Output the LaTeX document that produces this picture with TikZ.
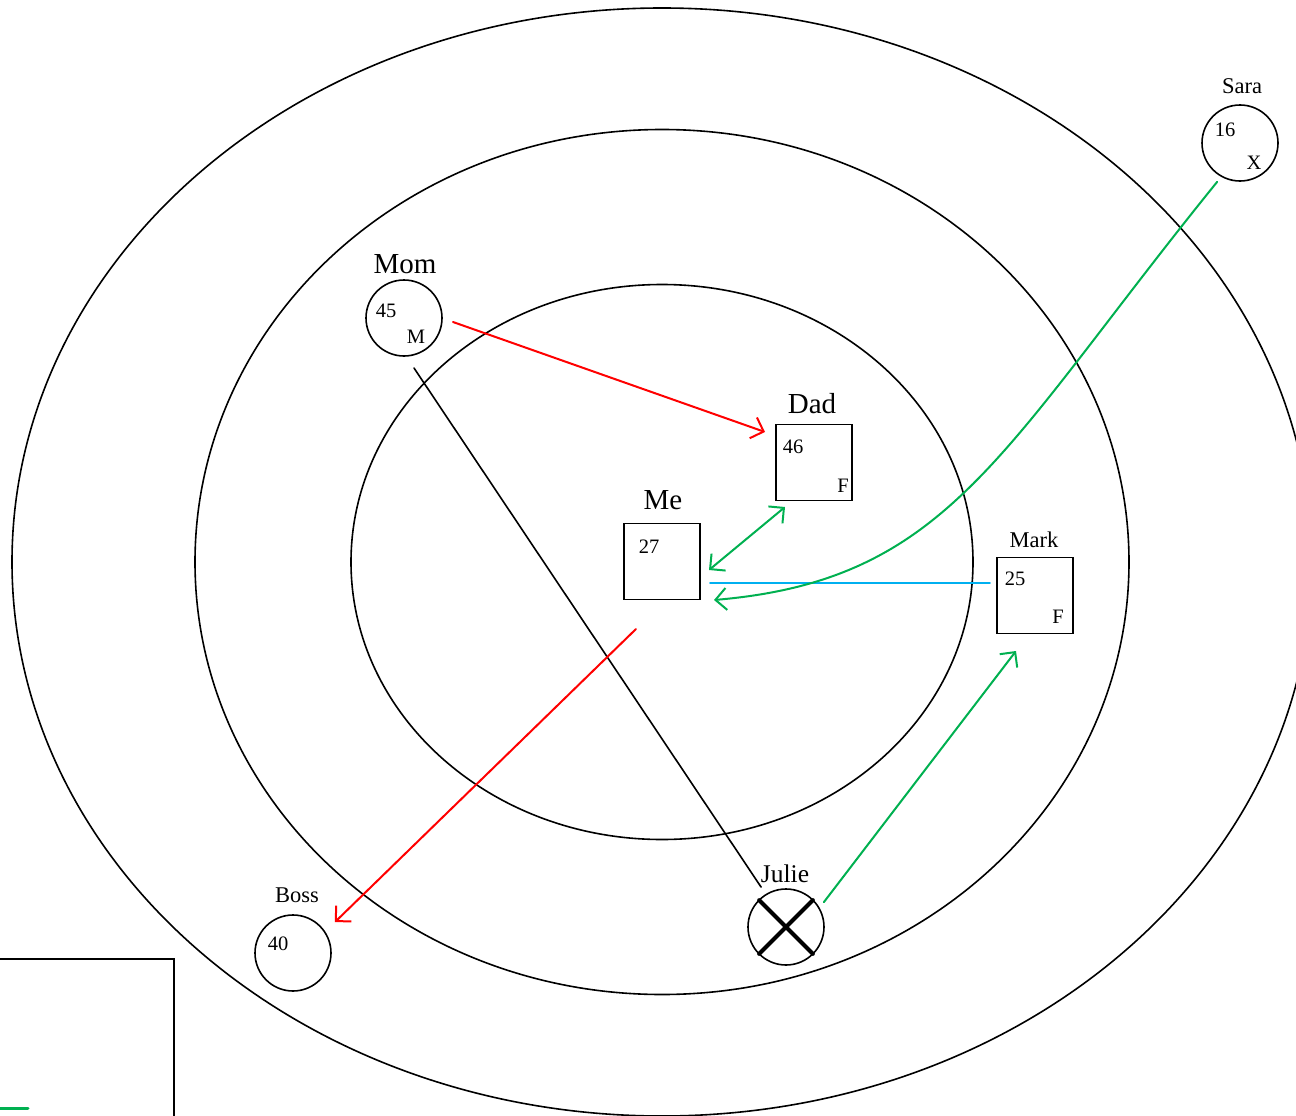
\documentclass[tikz,border=0pt]{standalone}
\usepackage{fontspec}
\setmainfont{Liberation Serif}
\usepackage{tikz}
\usetikzlibrary{arrows.meta}
\definecolor{relred}{HTML}{FF0000}
\definecolor{relgreen}{HTML}{00B050}
\definecolor{relblue}{HTML}{00B0F0}
\newcommand{\personsize}{76pt}
\tikzstyle{person}=[draw, line width=1.6pt, inner sep=0, outer sep=0, minimum size=\personsize]
\tikzstyle{male}=[person, rectangle]
\tikzstyle{female}=[person, circle]
\tikzstyle{bigname}=[anchor=base, inner sep=0, font=\fontsize{29}{31}\selectfont]
\tikzstyle{smallname}=[anchor=base, inner sep=0, font=\fontsize{22.5}{24}\selectfont]
\tikzstyle{info}=[anchor=base, inner sep=0, font=\fontsize{20.5}{22}\selectfont]
\tikzstyle{circleline}=[line width=1.6pt]
\tikzstyle{rel}=[line width=2pt, -{Straight Barb[length=11pt, width=22pt, line width=2pt]}]
\tikzstyle{relboth}=[line width=2pt, {Straight Barb[length=11pt, width=22pt, line width=2pt]}-{Straight Barb[length=11pt, width=22pt, line width=2pt]}]
\tikzstyle{genogram}=[x=1pt, y=-1pt, line cap=round]

\begin{document}
\begin{tikzpicture}[genogram]
        \useasboundingbox (0, 0) rectangle (1296, 1116);
        \clip (0, 0) rectangle (1296, 1116);
        % Circles of closeness
        \draw[circleline] (662, 562) ellipse [x radius=311, y radius=277.5];
        \draw[circleline] (662, 562) ellipse [x radius=467, y radius=432.5];
        \draw[circleline] (662, 562) ellipse [x radius=650, y radius=554];
        % Legend
        \draw[line width=1.6pt] (-5, 959) -- (174, 959) -- (174, 1125);
        \draw[relgreen, line width=3pt] (-5, 1108) -- (28, 1108);
        % People
        \node[female] (Mom) at (404, 318) {};
        \node[male] (Dad) at (814, 462.5) {};
        \node[male] (Me) at (662, 561.5) {};
        \node[male] (Mark) at (1035, 595.5) {};
        \node[female] (Sara) at (1240, 143) {};
        \node[female] (Boss) at (293, 953) {};
        \node[female] (Julie) at (786, 927) {};
        \draw[line width=4pt] (Julie.north west) -- (Julie.south east);
        \draw[line width=4pt] (Julie.south west) -- (Julie.north east);
        % Names
        \node[bigname] (Momname) at (405, 273) {Mom};
        \node[bigname] (Dadname) at (812, 413) {Dad};
        \node[bigname] (Mename) at (663, 509) {Me};
        \node[smallname] (Markname) at (1034, 547) {Mark};
        \node[smallname] (Saraname) at (1242, 93) {Sara};
        \node[smallname] (Bossname) at (297, 902) {Boss};
        \node[bigname, font=\fontsize{25.5}{27}\selectfont] (Juliename) at (785, 882) {Julie};
        % Ages and letters
        \node[info] (Momage) at (386, 317) {45};
        \node[info] (Momsex) at (416, 343) {M};
        \node[info] (Dadage) at (793, 453) {46};
        \node[info] (Dadsex) at (843, 492) {F};
        \node[info] (Meage) at (649, 553) {27};
        \node[info] (Markage) at (1015, 585) {25};
        \node[info] (Marksex) at (1058, 623) {F};
        \node[info] (Saraage) at (1225, 136) {16};
        \node[info] (Sarasex) at (1254, 169) {X};
        \node[info] (Bossage) at (278, 950) {40};
        % Relations
        \draw[rel, relred] ([shift={(11, 4)}]Mom.east) -- ([shift={(-11, 7.5)}]Dad.north west);
        \draw[line width=1.6pt] ([shift={(10, 12)}]Mom.south) -- ([shift={(2, -13)}]Julie.north west);
        \draw[relboth, relgreen] ([shift={(9, 8.5)}]Me.east) -- ([shift={(9, 6.5)}]Dad.south west);
        \draw[relblue, line width=1.6pt] ([shift={(10, 21.5)}]Me.east) -- ([shift={(-7, -12.5)}]Mark.west);
        \draw[rel, relgreen] ([shift={(4, 12)}]Sara.south west) .. controls (1000, 450) and (950, 580) .. ([shift={(14, 0.5)}]Me.south east);
        \draw[rel, relred] ([shift={(-26, 29.5)}]Me.south) -- ([shift={(15, -4)}]Boss.north east);
        \draw[rel, relgreen] ([shift={(11, 2)}]Julie.north east) -- ([shift={(-19, 17.5)}]Mark.south);
    \end{tikzpicture}
\end{document}
